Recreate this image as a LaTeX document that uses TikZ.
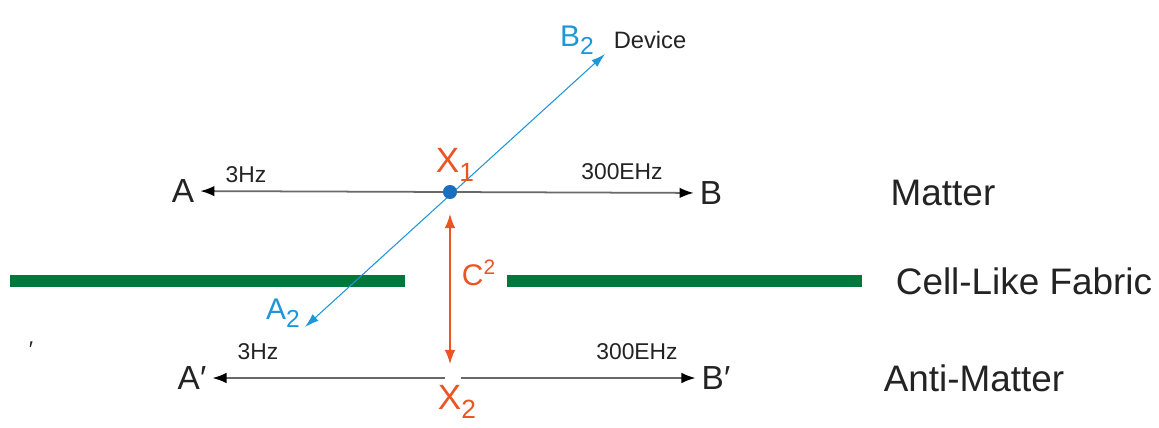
\documentclass[tikz,border=0pt]{standalone}
\usepackage{fontspec}
\setmainfont{Liberation Sans}
\usepackage{xcolor}
\usetikzlibrary{arrows.meta}

\definecolor{lineGray}{RGB}{105,105,105}
\definecolor{txtGray}{RGB}{35,35,35}
\definecolor{devBlue}{RGB}{30,150,215}
\definecolor{dotBlue}{RGB}{25,110,190}
\definecolor{capRed}{RGB}{235,85,35}
\definecolor{fabGreen}{RGB}{0,120,60}

% large lowered index, as in the figure
\newcommand{\lowidx}[2]{\raisebox{-0.5ex}{\fontsize{#1}{#1}\selectfont #2}}

\begin{document}
\begin{tikzpicture}[
        x=0.02cm, y=-0.02cm,
        big/.style={text=txtGray, font=\fontsize{21}{25}\selectfont},
        pole/.style={text=txtGray, font=\fontsize{19}{23}\selectfont},
        freq/.style={text=txtGray, font=\fontsize{13}{15}\selectfont},
        xlbl/.style={text=capRed, font=\fontsize{20}{24}\selectfont},
        blbl/.style={text=devBlue, font=\fontsize{17}{20}\selectfont},
        dot/.style={circle, fill=dotBlue, inner sep=0pt, minimum size=8pt},
        grayarr/.style={-{Latex[length=8pt,width=6pt,black]}, lineGray, line width=1pt},
        bluearr/.style={{Latex[length=8pt,width=5pt]}-{Latex[length=8pt,width=5pt]}, devBlue, line width=0.6pt},
        redarr/.style={{Latex[length=8pt,width=6pt]}-{Latex[length=8pt,width=6pt]}, capRed, line width=0.8pt},
        fabric/.style={fabGreen, line width=7pt}
    ]
        \useasboundingbox (0,0) rectangle (1159,427);

        % cell-like fabric
        \draw[fabric] (10,281) -- (405,281);
        \draw[fabric] (507,281) -- (862,281);

        % matter line
        \node[pole] (a) at (183,191) {A};
        \node[pole] (b) at (711,193) {B};
        \node[freq] at (246,175) {3Hz};
        \node[freq] at (622,172) {300EHz};
        \coordinate (x1c) at (450,192);
        \draw[grayarr] (x1c) -- (a);
        \draw[grayarr] (x1c) -- (b);

        % anti-matter line
        \node[pole] (ap) at (192,378) {A′};
        \node[pole] (bp) at (716,378) {B′};
        \node[freq] at (258,352) {3Hz};
        \node[freq] at (637,352) {300EHz};
        \coordinate (x2c) at (453,378);
        \draw[grayarr, shorten <=4.5pt] (x2c) -- (ap);
        \draw[grayarr, shorten <=4.5pt] (x2c) -- (bp);

        % device path
        \coordinate (a2tip) at (305,327);
        \coordinate (b2tip) at (605,54);
        \draw[bluearr] (a2tip) -- (b2tip);
        \node[blbl] (a2) at (283,313) {A\lowidx{14}{2}};
        \node[blbl] (b2) at (577,40) {B\lowidx{14}{2}};
        \node[text=txtGray, font=\fontsize{13.5}{16}\selectfont] (dev) at (650,40) {Device};

        % C squared link
        \coordinate (ctop) at (450,214);
        \coordinate (cbot) at (450,364);
        \draw[redarr] (ctop) -- (cbot);
        \node[text=capRed, font=\fontsize{17}{20}\selectfont] (c2) at (479,273) {C\textsuperscript{2}};

        \node[dot] (x1) at (x1c) {};
        \node[xlbl] (x1l) at (455,165) {X\lowidx{15}{1}};
        \node[xlbl] (x2l) at (457,402) {X\lowidx{15}{2}};

        % side labels
        \node[big] (mat) at (943,193) {Matter};
        \node[big] (fab) at (1024,281) {Cell-Like Fabric};
        \node[big] (anti) at (974,378) {Anti-Matter};
        \node[freq] (tick) at (31,350) {′};
    \end{tikzpicture}
\end{document}
